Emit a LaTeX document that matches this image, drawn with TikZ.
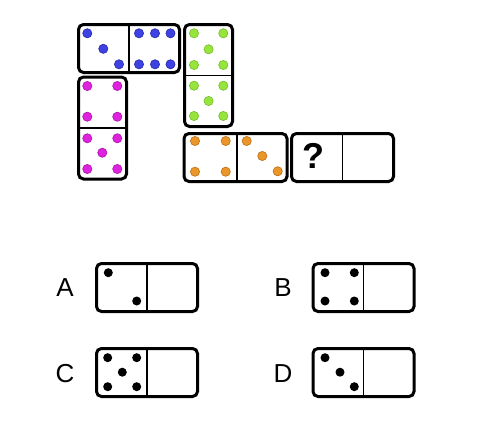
\documentclass[tikz,border=0pt]{standalone}
\usepackage{fontspec}
\setmainfont{Liberation Sans}
\definecolor{bluepip}{RGB}{62,66,226}
\definecolor{bluepipd}{RGB}{40,40,170}
\definecolor{magpip}{RGB}{222,34,222}
\definecolor{magpipd}{RGB}{170,20,170}
\definecolor{greenpip}{RGB}{150,228,60}
\definecolor{greenpipd}{RGB}{115,190,40}
\definecolor{orangepip}{RGB}{235,150,40}
\definecolor{orangepipd}{RGB}{190,110,20}
\begin{document}
\begin{tikzpicture}[x=1pt,y=-1pt,
  domino/.style={draw=black, line width=3pt, rounded corners=5pt, fill=white, inner sep=0pt},
  hdom/.style={domino, minimum width=101pt, minimum height=48pt},
  vdom/.style={domino, minimum width=48pt, minimum height=102pt},
  divider/.style={line width=1.5pt},
  pip/.style={line width=0.6pt},
  lbl/.style={font=\fontsize{26}{26}\selectfont, inner sep=0pt}]
\useasboundingbox (0,0) rectangle (483,423);
% top dominoes
\node[hdom] (blue) at (129,48.5) {};
\node[vdom] (mag) at (102.5,128) {};
\node[vdom] (green) at (208.5,75.5) {};
\node[hdom, minimum width=103pt] (orange) at (235.5,157.5) {};
\node[hdom, minimum width=102pt] (quest) at (342.5,157.5) {};
\draw[divider] ([yshift=-3pt]blue.north) -- ([yshift=3pt]blue.south);
\draw[divider] ([xshift=3pt]mag.west) -- ([xshift=-3pt]mag.east);
\draw[divider] ([xshift=3pt]green.west) -- ([xshift=-3pt]green.east);
\draw[divider] ([yshift=-3pt,xshift=1.5pt]orange.north) -- ([yshift=3pt,xshift=1.5pt]orange.south);
\draw[divider] ([yshift=-3pt]quest.north) -- ([yshift=3pt]quest.south);
\node[font=\bfseries\fontsize{36}{36}\selectfont, inner sep=0pt] (qm) at (313.5,156.3) {?};
% blue pips
\foreach \p in {(87.3,33.3),(103.3,48.8),(119,64.3),(139,33.3),(155,33.3),(170.5,33.3),(139,64.3),(155,64.3),(170.5,64.3)}
  \filldraw[pip, fill=bluepip, draw=bluepipd] \p circle (4.6);
% magenta pips
\foreach \p in {(87.3,86),(117.3,86),(87.3,116.7),(117.3,116.7),(87.3,138.3),(117.3,138.3),(102.3,152.7),(87.3,169),(117.3,169)}
  \filldraw[pip, fill=magpip, draw=magpipd] \p circle (4.6);
% green pips
\foreach \p in {(194,33.3),(223.3,33.3),(208.6,49.3),(194,65),(223.3,65),(194,85.7),(223.3,85.7),(208.6,101),(194,116),(223.3,116)}
  \filldraw[pip, fill=greenpip, draw=greenpipd] \p circle (4.6);
% orange pips
\foreach \p in {(195,141),(225.7,141),(195,171.7),(225.7,171.7),(246.7,141),(262.3,156),(277.7,171.3)}
  \filldraw[pip, fill=orangepip, draw=orangepipd] \p circle (4.6);
% options
\node[hdom] (optA) at (147,287.5) {};
\node[hdom] (optB) at (363.5,287.5) {};
\node[hdom] (optC) at (147,372.5) {};
\node[hdom] (optD) at (363.5,372.5) {};
\foreach \d in {optA,optB,optC,optD}
  \draw[divider] ([yshift=-3pt]\d.north) -- ([yshift=3pt]\d.south);
\node[lbl] (la) at (65,288) {A};
\node[lbl] (lb) at (283,288) {B};
\node[lbl] (lc) at (65,373.5) {C};
\node[lbl] (ld) at (283,373.5) {D};
\foreach \p in {(108.3,272.7),(136.7,301),
                (325,272.7),(354.3,272.7),(325,301),(354.3,301),
                (107.7,357.7),(136.7,357.7),(122.3,372.2),(107.7,386.7),(136.7,386.7),
                (325,357.7),(340,372.2),(354.3,386.7)}
  \fill[black] \p circle (4.5);
\end{tikzpicture}
\end{document}
